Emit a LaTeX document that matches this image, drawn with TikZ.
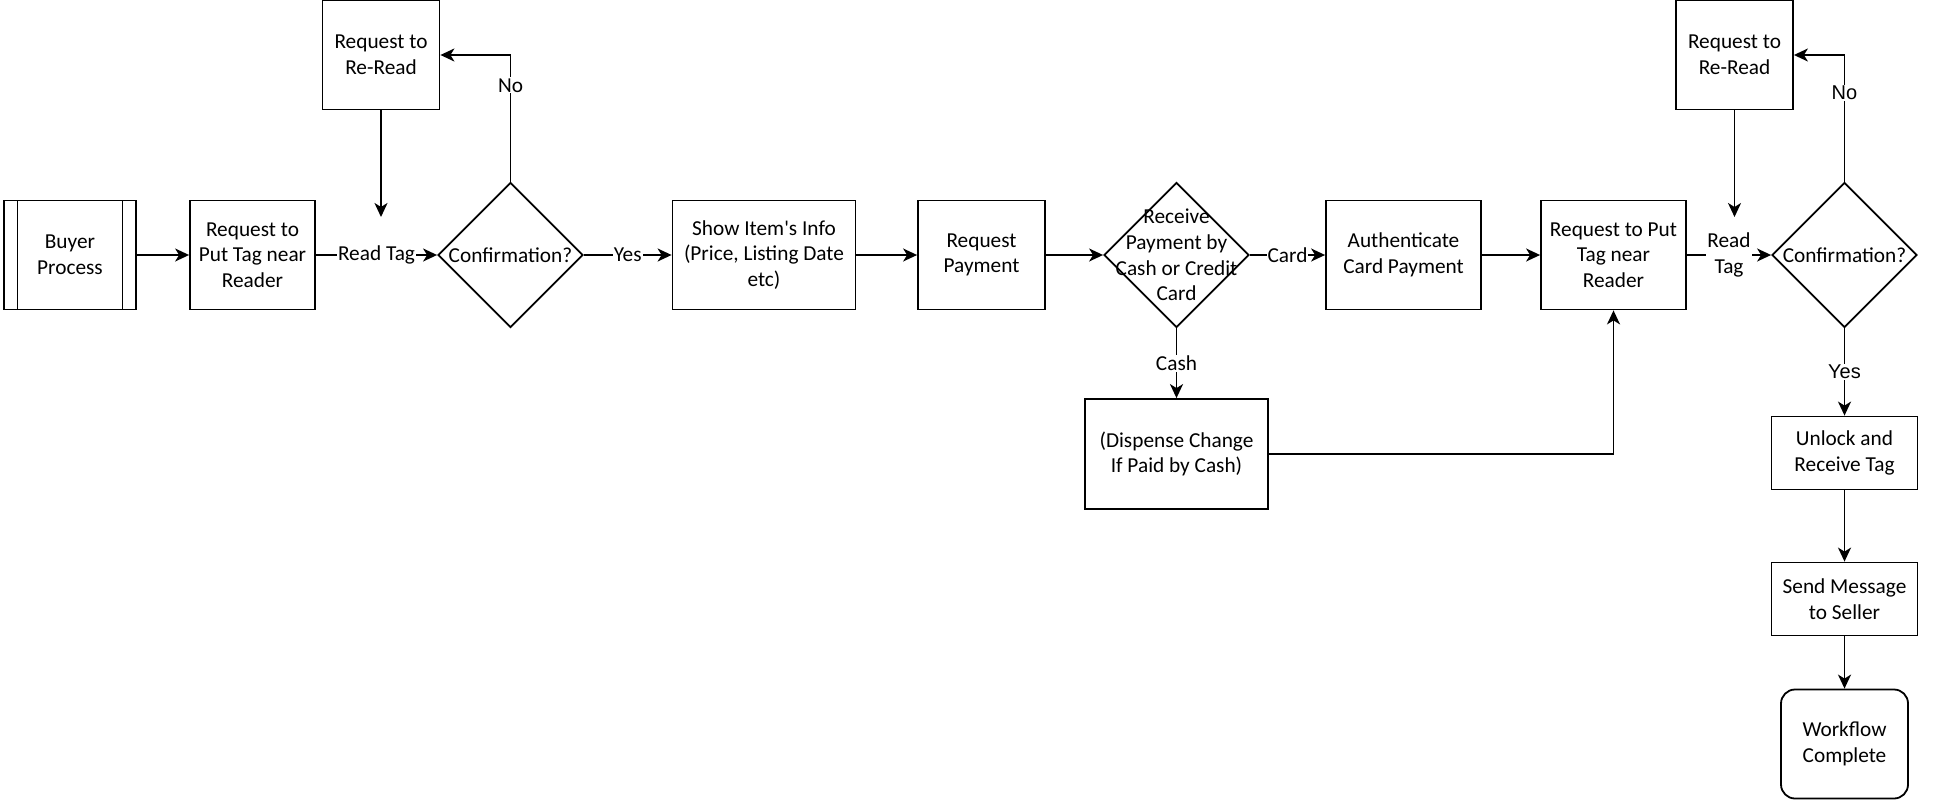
\documentclass[tikz,border=0pt]{standalone}
\usepackage{fontspec}
\setmainfont{Carlito}
\newfontfamily\arialfont{Liberation Sans}
\usetikzlibrary{arrows.meta,shapes.geometric}

\begin{document}
\begin{tikzpicture}[->,>={Stealth[length=14pt,width=13pt,inset=4pt]},
                    x=1pt,y=-1pt,line width=1.8pt,
                    font=\fontsize{21.3}{25.7}\selectfont]
  \tikzstyle{every node}=[align=center]
  \tikzstyle{every label}=[align=center]
  \tikzstyle{box}=[draw,rectangle,minimum height=109pt,inner sep=2pt]
  \tikzstyle{decision}=[draw,diamond,minimum width=145pt,minimum height=145pt,
                        inner sep=0pt]
  \tikzstyle{sub}=[box,path picture={
      \draw[-,line width=1.8pt]
        ([xshift=13.5pt]path picture bounding box.north west) -- ([xshift=13.5pt]path picture bounding box.south west)
        ([xshift=-13.5pt]path picture bounding box.north east) -- ([xshift=-13.5pt]path picture bounding box.south east);}]
  \tikzstyle{lbl}=[fill=white,inner sep=1pt]
  \tikzstyle{lblb}=[lbl,font=\arialfont\fontsize{20}{24}\selectfont]

  \useasboundingbox (0,0) rectangle (1935,808);

     \node[sub,minimum width=132pt] (buyer) at (70,255) {Buyer\\Process};

  \node[box,minimum width=125pt] (put1) [node distance=182.5pt,right of=buyer] {Request to\\Put Tag near\\Reader};

   \node[decision,label={center:Confirmation?}] (conf1) [node distance=258pt,right of=put1] {};

    \node[box,minimum width=117pt] (reread1) at (381,55) {Request to\\Re-Read};

  \node[box,minimum width=183pt] (info) [node distance=253.5pt,right of=conf1] {Show Item\textquotesingle s Info\\(Price, Listing Date\\etc)};

  \node[box,minimum width=127pt] (pay) [node distance=217.5pt,right of=info] {Request\\Payment};

   \node[decision,label={center:Receive\\Payment by\\Cash or Credit\\Card}] (paydec) [node distance=195pt,right of=pay] {};

  \node[box,minimum width=155pt] (auth) [node distance=227pt,right of=paydec] {Authenticate\\Card Payment};

  \node[box,minimum width=183pt,minimum height=110pt] (cashbox) [node distance=199pt,below of=paydec] {(Dispense Change\\If Paid by Cash)};

  \node[box,minimum width=145pt] (put2) [node distance=210pt,right of=auth] {Request to Put\\Tag near\\Reader};

   \node[decision,label={center:Confirmation?}] (conf2) [node distance=231pt,right of=put2] {};

    \node[box,minimum width=117pt] (reread2) at (1734.5,55) {Request to\\Re-Read};

  \node[box,minimum width=146pt,minimum height=73pt] (unlock) [node distance=198pt,below of=conf2] {Unlock and\\Receive Tag};

  \node[box,minimum width=146pt,minimum height=73pt] (send) [node distance=146pt,below of=unlock] {Send Message\\to Seller};

  \node[box,minimum width=127pt,rounded corners=14pt] (done) [node distance=145pt,below of=send] {Workflow\\Complete};

  \coordinate (rr1end) at (381,217);
  \coordinate (rr2end) at (1734.5,217);

  \path
      (buyer) edge (put1)
      (put1) edge node[lbl] {Read Tag} (conf1)
      (conf1) edge node[lbl] {Yes} (info)
      (info) edge (pay)
      (pay) edge (paydec)
      (paydec) edge node[lbl] {Card} (auth)
      (paydec) edge node[lbl] {Cash} (cashbox)
      (auth) edge (put2)
      (put2) edge node[lbl] {Read\\Tag} (conf2)
      (conf2) edge node[lblb] {Yes} (unlock)
      (unlock) edge (send)
      (send) edge (done)
      ;

  \draw (reread1) -- (rr1end);
  \draw (reread2) -- (rr2end);
  \draw (conf1.north) |- node[lbl,pos=0.38] {No} (reread1.east);
  \draw (conf2.north) |- node[lblb,pos=0.35] {No} (reread2.east);
  \draw (cashbox.east) -| (put2.south);

\end{tikzpicture}
\end{document}
